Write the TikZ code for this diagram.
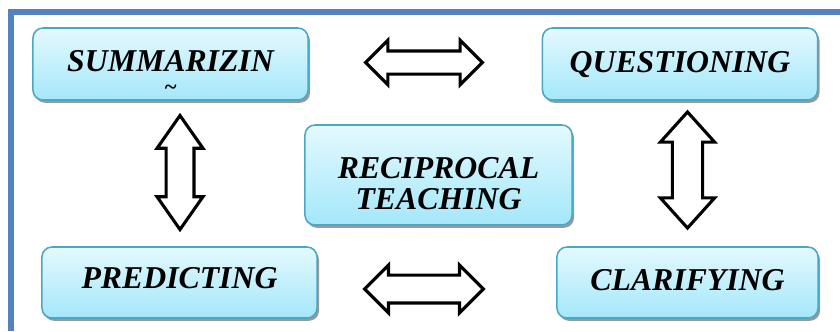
\documentclass[tikz,border=0pt]{standalone}
\usepackage{fontspec}
\setmainfont{Liberation Serif}
\usepackage{xcolor}
\usetikzlibrary{shapes,shapes.arrows,shadows,positioning}
\definecolor{frameblue}{RGB}{84,130,190}
\definecolor{boxedge}{RGB}{75,168,196}
\definecolor{boxtop}{RGB}{228,249,254}
\definecolor{boxbot}{RGB}{164,231,250}
\begin{document}
\begin{tikzpicture}[
    x=0.025cm, y=-0.025cm,
    box/.style={rectangle, draw=boxedge, line width=1.1pt, rounded corners=0.25cm, top color=boxtop, bottom color=boxbot, minimum width=6.875cm, minimum height=1.8cm, align=center, font=\fontsize{22.6}{24}\selectfont\bfseries\itshape, drop shadow={shadow xshift=0.05cm, shadow yshift=-0.07cm, fill=black!40, opacity=1}},
    dblarrow/.style={double arrow, draw, line width=2.2pt, fill=white, inner sep=0pt, minimum width=0pt, double arrow head extend=0.26cm},
    frame/.style={draw=frameblue, line width=3.6pt}
]
\useasboundingbox (0,0) rectangle (840,331);
% Page frame
\draw[frame] (11,331) -- (11,12) -- (840,12);
% Boxes
\node[box, inner ysep=0pt] (summ) at (170.5,64) {\rule{0pt}{0.95cm}SUMMARIZIN\\[-8pt]{\fontsize{16}{16}\selectfont\textasciitilde}};
\node[box, text depth=0.12cm] (ques) at (680,64) {QUESTIONING};
\node[box, inner ysep=0pt, minimum width=6.675cm, minimum height=2.5cm] (recip) at (438.5,175) {\rule{0pt}{0.95cm}RECIPROCAL\\[-1.5pt]TEACHING};
\node[box, text depth=0.25cm, minimum height=1.775cm] (pred) at (179.5,282.5) {PREDICTING};
\node[box, text depth=0.12cm, minimum width=6.525cm, minimum height=1.775cm] (clar) at (687.5,282.5) {CLARIFYING};
% Block arrows
\node[dblarrow, inner ysep=0.25cm, double arrow head extend=0.27cm, minimum height=2.92cm] (topar) at (424,62.5) {};
\node[dblarrow, inner ysep=0.31cm, double arrow head extend=0.25cm, minimum height=2.97cm] (botar) at (424,289) {};
\node[dblarrow, rotate=90, inner ysep=0.31cm, double arrow head extend=0.225cm, double arrow tip angle=70, minimum height=2.85cm] (leftar) at (180,172.5) {};
\node[dblarrow, rotate=90, inner ysep=0.34cm, double arrow head extend=0.3cm, double arrow tip angle=84, minimum height=2.9cm] (rightar) at (687.5,170) {};
\end{tikzpicture}
\end{document}
